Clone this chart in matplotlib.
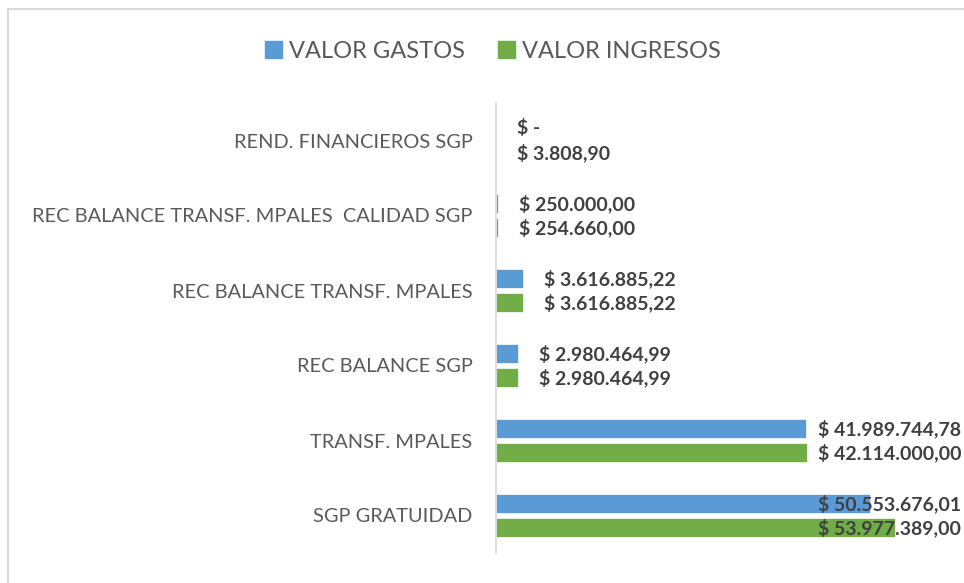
import matplotlib
matplotlib.use("Agg")
import matplotlib.pyplot as plt
from matplotlib.patches import Rectangle

# --- datos ---
categorias = ["REND. FINANCIEROS SGP",
              "REC BALANCE TRANSF. MPALES  CALIDAD SGP",
              "REC BALANCE TRANSF. MPALES",
              "REC BALANCE SGP",
              "TRANSF. MPALES",
              "SGP GRATUIDAD"]
gastos = [0.0, 250000.00, 3616885.22, 2980464.99, 41989744.78, 50553676.01]
ingresos = [3808.90, 254660.00, 3616885.22, 2980464.99, 42114000.00, 53977389.00]

AZUL = "#5B9BD5"
VERDE = "#70AD47"
GRIS = "#595959"

plt.rcParams['font.family'] = ['Lato', 'DejaVu Sans']


def fmt(v):
    if v == 0:
        return "$ -"
    s = f"{v:,.2f}".replace(",", "X").replace(".", ",").replace("X", ".")
    return "$ " + s


fig = plt.figure(figsize=(9.64, 5.83), dpi=100)
fig.patches.append(Rectangle((8 / 964, -0.01), 1.0, 1 - 9 / 583 + 0.01,
                             transform=fig.transFigure, fill=False,
                             edgecolor="#D9D9D9", lw=1.5))

ax = fig.add_axes([496 / 964, 30 / 583, 1 - 496 / 964, 450 / 583])
n = len(categorias)
ys = list(range(n))
h = 0.265
off = 0.16
ax.barh([y - off for y in ys], gastos, height=h, color=AZUL, edgecolor="white", lw=0.5)
ax.barh([y + off for y in ys], ingresos, height=h, color=VERDE, edgecolor="white", lw=0.5)
ax.set_ylim(n - 0.5, -0.5)
ax.set_xlim(0, 63.3e6)

for s in ["top", "right", "bottom"]:
    ax.spines[s].set_visible(False)
ax.spines["left"].set_color("#D9D9D9")
ax.spines["left"].set_linewidth(1.2)
ax.set_xticks([])
ax.set_yticks(ys)
ax.set_yticklabels(categorias, fontsize=14.4, color=GRIS)
ax.tick_params(axis="y", length=0, pad=17)

fig.canvas.draw()
r = fig.canvas.get_renderer()
lim_x = 961
for vals, d in [(gastos, -off), (ingresos, off)]:
    for y, v in zip(ys, vals):
        t = ax.annotate(fmt(v), (v, y + d), xytext=(15, 0), textcoords="offset points",
                        ha="left", va="center", fontsize=14, fontweight="bold",
                        color="#404040")
        bb = t.get_window_extent(r)
        if bb.x1 > lim_x:
            t.remove()
            px, py = ax.transData.transform((0, y + d))
            ax.text(lim_x, py, fmt(v), transform=None, ha="right", va="center",
                    fontsize=14, fontweight="bold", color="#404040")

# leyenda
fig.legend(handles=[Rectangle((0, 0), 1, 1, color=AZUL), Rectangle((0, 0), 1, 1, color=VERDE)],
           labels=["VALOR GASTOS", "VALOR INGRESOS"], loc="center",
           bbox_to_anchor=(493 / 964, 1 - 51 / 583), ncol=2, frameon=False,
           fontsize=17, labelcolor=GRIS, handlelength=0.7, handleheight=0.7,
           handletextpad=0.3, columnspacing=1.4)

fig.savefig("out.png", dpi=100)
